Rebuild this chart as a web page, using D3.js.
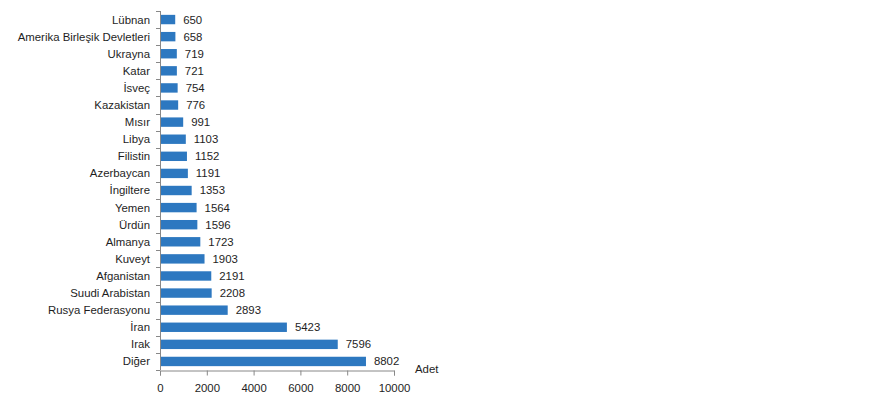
<!DOCTYPE html>
<html>
<head>
<meta charset="utf-8">
<script src="https://cdn.jsdelivr.net/npm/d3@7"></script>
<style>
  body { margin: 0; background: #fff; }
  text { font-family: "Liberation Sans", Arial, sans-serif; font-size: 11.4px; fill: #1e1e1e; }
</style>
</head>
<body>
<div id="chart"></div>
<script>
const countries = ["Lübnan", "Amerika Birleşik Devletleri", "Ukrayna", "Katar", "İsveç", "Kazakistan",
  "Mısır", "Libya", "Filistin", "Azerbaycan", "İngiltere", "Yemen", "Ürdün", "Almanya", "Kuveyt",
  "Afganistan", "Suudi Arabistan", "Rusya Federasyonu", "İran", "Irak", "Diğer"];
const counts = [650, 658, 719, 721, 754, 776, 991, 1103, 1152, 1191, 1353, 1564, 1596, 1723, 1903,
  2191, 2208, 2893, 5423, 7596, 8802];
const xTicks = [0, 2000, 4000, 6000, 8000, 10000];
const unitLabel = "Adet";

const width = 880, height = 397;
const plotLeft = 160, plotRight = 394, plotTop = 11, plotBottom = 370;

const svg = d3.select("#chart").append("svg")
  .attr("width", width)
  .attr("height", height);

const x = d3.scaleLinear().domain([0, 10000]).range([plotLeft, plotRight]);
const y = d3.scaleBand().domain(countries).range([plotTop, plotBottom]).paddingInner(0.45).paddingOuter(0.225);

// bars
svg.append("g")
  .selectAll("rect")
  .data(countries)
  .join("rect")
  .attr("x", x(0))
  .attr("y", d => y(d))
  .attr("width", (d, i) => x(counts[i]) - x(0))
  .attr("height", y.bandwidth())
  .attr("fill", "#2d78c0");

// value labels
svg.append("g")
  .selectAll("text")
  .data(countries)
  .join("text")
  .attr("x", (d, i) => x(counts[i]) + 8)
  .attr("y", d => y(d) + y.bandwidth() / 2)
  .attr("dy", "0.35em")
  .text((d, i) => counts[i]);

// y axis: line + ticks at band boundaries
const yAxis = svg.append("g");
yAxis.append("line")
  .attr("x1", plotLeft + 0.5).attr("x2", plotLeft + 0.5)
  .attr("y1", plotTop).attr("y2", plotBottom)
  .attr("stroke", "#888");
const step = y.step();
yAxis.selectAll(".tk")
  .data(d3.range(countries.length + 1))
  .join("line")
  .attr("class", "tk")
  .attr("x1", plotLeft - 4).attr("x2", plotLeft)
  .attr("y1", i => Math.round(plotTop + i * step) + 0.5)
  .attr("y2", i => Math.round(plotTop + i * step) + 0.5)
  .attr("stroke", "#888");
yAxis.selectAll("text")
  .data(countries)
  .join("text")
  .attr("x", plotLeft - 10)
  .attr("y", d => y(d) + y.bandwidth() / 2)
  .attr("dy", "0.35em")
  .attr("text-anchor", "end")
  .text(d => d);

// x axis
const xAxis = svg.append("g").attr("transform", `translate(0,${plotBottom + 0.5})`)
  .call(d3.axisBottom(x).tickValues(xTicks).tickSize(5).tickPadding(8).tickFormat(d3.format("d")));
xAxis.select(".domain").attr("stroke", "#888");
xAxis.selectAll(".tick line").attr("stroke", "#888");
xAxis.selectAll(".tick text").style("font-family", "Liberation Sans, Arial, sans-serif").style("font-size", "11.4px").attr("fill", "#1e1e1e");

svg.append("text")
  .attr("x", 415)
  .attr("y", 369)
  .attr("dy", "0.35em")
  .text(unitLabel);
</script>
</body>
</html>
